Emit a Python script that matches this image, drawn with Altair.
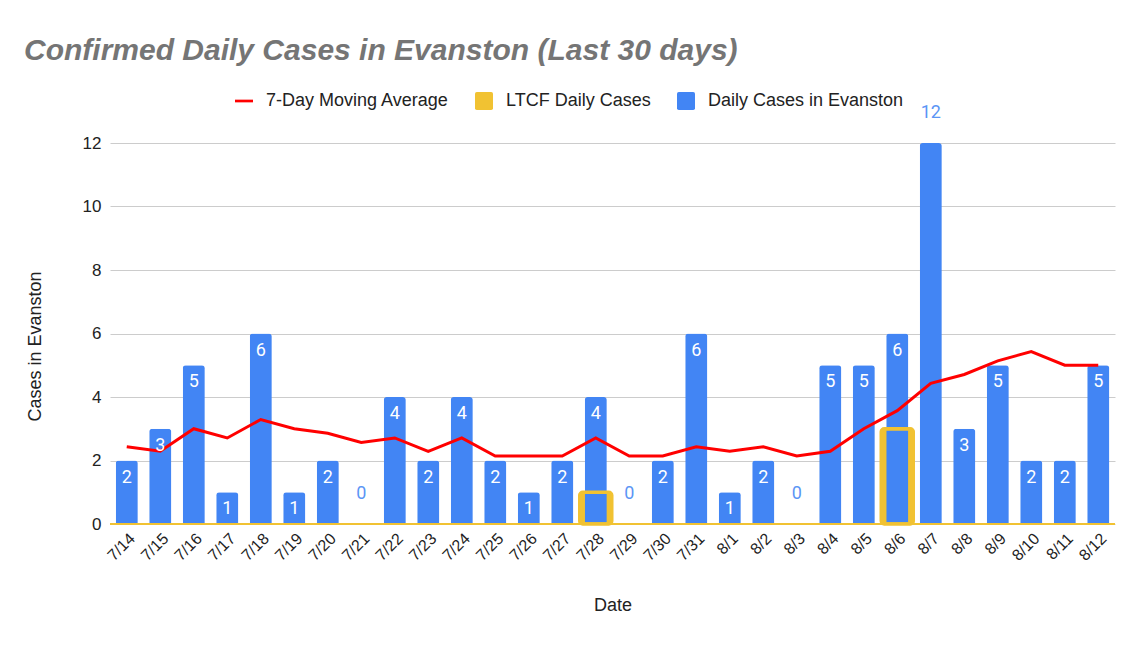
import altair as alt
import pandas as pd

dates = ["7/14", "7/15", "7/16", "7/17", "7/18", "7/19", "7/20", "7/21", "7/22", "7/23",
         "7/24", "7/25", "7/26", "7/27", "7/28", "7/29", "7/30", "7/31", "8/1", "8/2",
         "8/3", "8/4", "8/5", "8/6", "8/7", "8/8", "8/9", "8/10", "8/11", "8/12"]
daily_cases = [2, 3, 5, 1, 6, 1, 2, 0, 4, 2, 4, 2, 1, 2, 4, 0, 2, 6, 1, 2,
               0, 5, 5, 6, 12, 3, 5, 2, 2, 5]
ltcf_cases = [0, 0, 0, 0, 0, 0, 0, 0, 0, 0, 0, 0, 0, 0, 1, 0, 0, 0, 0, 0,
              0, 0, 0, 3, 0, 0, 0, 0, 0, 0]
moving_avg = [2.43, 2.29, 3.0, 2.71, 3.29, 3.0, 2.86, 2.57, 2.71, 2.29,
              2.71, 2.14, 2.14, 2.14, 2.71, 2.14, 2.14, 2.43, 2.29, 2.43,
              2.14, 2.29, 3.0, 3.57, 4.43, 4.71, 5.14, 5.43, 5.0, 5.0]
series_names = ["7-Day Moving Average", "LTCF Daily Cases", "Daily Cases in Evanston"]
series_colors = ["#FF0000", "#F1C232", "#4285F4"]
y_ticks = [0, 2, 4, 6, 8, 10, 12]

RED, YELLOW, BLUE = series_colors

df = pd.DataFrame({"date": dates, "daily": daily_cases, "ltcf": ltcf_cases, "avg": moving_avg})
legend_df = pd.DataFrame({"series": series_names})

W, H = 1005, 381
FONT = "Liberation Sans"
TXT = "#222222"

DASH = "M-1,-0.15H1V0.15H-1Z"
RSQ = "M-1,-0.8Q-1,-1,-0.8,-1H0.8Q1,-1,1,-0.8V0.8Q1,1,0.8,1H-0.8Q-1,1,-1,0.8Z"

legend = alt.Legend(
    title=None, orient="none", legendX=125, legendY=-51, direction="horizontal",
    labelFont=FONT, labelFontSize=18, labelColor=TXT, labelLimit=400, symbolSize=324,
    labelOffset=13, columnPadding=26, padding=0, symbolOpacity=1, symbolStrokeWidth=0,
)

x_enc = alt.X("date:N", sort=dates,
              scale=alt.Scale(paddingInner=0.34, paddingOuter=0.17),
              axis=alt.Axis(title="Date", labelAngle=-45, labelFont=FONT, labelFontSize=16,
                            labelColor=TXT, labelPadding=6, domain=False, ticks=False,
                            titleFont=FONT, titleFontSize=18, titleFontWeight="normal",
                            titleColor=TXT, titleY=72, titleBaseline="top"))
y_scale = alt.Scale(domain=[0, 12], nice=False)
y_axis = alt.Axis(title="Cases in Evanston", values=y_ticks, labelFont=FONT, labelFontSize=17,
                  labelColor=TXT, labelPadding=9, domain=False, ticks=False,
                  gridColor="#CCCCCC", gridWidth=1, titleFont=FONT, titleFontSize=18,
                  titleFontWeight="normal", titleColor=TXT, titleX=-66, titleY=203)

base = alt.Chart(df)

ltcf_back = base.transform_filter("datum.ltcf > 0").mark_bar(
    width=35, cornerRadius=3, color=YELLOW).encode(
    x=x_enc, y=alt.Y("ltcf:Q", scale=y_scale, axis=y_axis))

blue_bars = base.mark_bar(cornerRadiusTopLeft=3, cornerRadiusTopRight=3, color=BLUE).encode(
    x=x_enc, y=alt.Y("daily:Q", scale=y_scale, axis=y_axis))

ltcf_front = base.transform_filter("datum.ltcf > 0").mark_bar(
    width=32, cornerRadius=3, fillOpacity=0, stroke=YELLOW, strokeWidth=3.5).encode(
    x=x_enc, y=alt.Y("ltcf:Q", scale=y_scale, axis=y_axis))

zero_rule = base.mark_rule(color=YELLOW, strokeWidth=2).encode(y=alt.datum(0))

line = base.mark_line(strokeWidth=3, color=RED).encode(
    x=x_enc, y=alt.Y("avg:Q", scale=y_scale, axis=y_axis))

inside_text = base.transform_filter("datum.daily > 0 && datum.daily < 12").mark_text(
    color="white", font="Roboto", fontSize=18, baseline="middle", dy=17).encode(
    x=x_enc, y=alt.Y("daily:Q", scale=y_scale), text="daily:Q")

outside_text = base.transform_filter("datum.daily == 0 || datum.daily >= 12").mark_text(
    color="#5B95F5", font="Roboto", fontSize=18, baseline="middle", dy=-30).encode(
    x=x_enc, y=alt.Y("daily:Q", scale=y_scale), text="daily:Q")

legend_layer = alt.Chart(legend_df).mark_point(filled=True, opacity=0).encode(
    color=alt.Color("series:N", scale=alt.Scale(domain=series_names, range=series_colors),
                    legend=legend),
    shape=alt.Shape("series:N", scale=alt.Scale(domain=series_names, range=[DASH, RSQ, RSQ]),
                    legend=legend),
)

chart = alt.layer(ltcf_back, blue_bars, ltcf_front, zero_rule, line, inside_text, outside_text,
                  legend_layer).properties(
    width=W, height=H,
    autosize=alt.AutoSizeParams(type="none"),
    padding={"left": 102, "top": 135, "right": 11, "bottom": 110},
    title=alt.TitleParams("Confirmed Daily Cases in Evanston (Last 30 days)", font=FONT,
                          fontSize=30, fontStyle="italic", fontWeight="bold", color="#757575",
                          anchor="start", frame="group", dx=-86, offset=26),
).configure_view(stroke=None)

chart.save("out.html", embed_options={"renderer": "svg", "actions": False})
